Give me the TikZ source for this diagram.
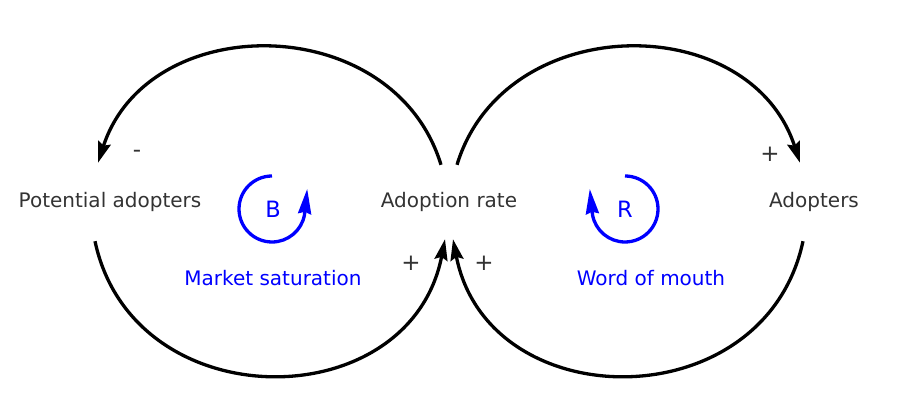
\documentclass[tikz,border=0pt]{standalone}
\usepackage{fontspec}
\setmainfont{DejaVu Sans}
\usetikzlibrary{arrows.meta}
\definecolor{txtgray}{HTML}{333333}

\begin{document}
\begin{tikzpicture}[x=1pt, y=1pt, font=\fontsize{20}{24}\selectfont]
	\tikzstyle{var}=[text=txtgray, minimum height=78pt, inner sep=0pt]
	\tikzstyle{causal}=[line width=3.3pt, -{Stealth[length=21pt, width=13pt, inset=3pt]}]
	\tikzstyle{polarity}=[text=txtgray, inner sep=0pt, font=\fontsize{23}{26}\selectfont]
	\tikzstyle{loopname}=[text=blue, inner sep=0pt]
	\tikzstyle{cycarrow}=[draw=blue, line width=3.3pt, -{Stealth[length=25pt, width=13pt, inset=2pt]}]
	
	\useasboundingbox (0,0) rectangle (900,420);
	
	% stocks and flow
	\node (potential) at (110,218) [var] {Potential adopters};
	\node (rate) at (449,218) [var, minimum height=74pt] {Adoption rate};
	\node (adopters) at (814,218) [var] {Adopters};
	
	% causal links
	\draw [causal] ([xshift=-8pt]rate.north) .. controls +(107:162) and +(72:162) .. ([xshift=-12pt]potential.north);
	\draw [causal] ([xshift=-15pt]potential.south) .. controls +(282:183) and +(259:183) .. ([xshift=-4pt]rate.south);
	\draw [causal] ([xshift=8pt]rate.north) .. controls +(73:162) and +(108:162) .. ([xshift=-14pt]adopters.north);
	\draw [causal] ([xshift=-11pt]adopters.south) .. controls +(258:183) and +(281:183) .. ([xshift=4pt]rate.south);
	
	% link polarities
	\node (minus) at (137,266) [polarity] {-};
	\node (plusa) at (770,266) [polarity] {+};
	\node (plusb) at (411,157) [polarity] {+};
	\node (plusc) at (484,157) [polarity] {+};
	
	% loops
	\node (balance) at (273,211) [loopname, font=\fontsize{22.5}{26}\selectfont] {B};
	\node (reinforce) at (625,211) [loopname, font=\fontsize{22.5}{26}\selectfont] {R};
	\draw [cycarrow] (balance.center) ++(-1,33) arc[start angle=90, end angle=350, radius=33] -- ++(84:26);
	\draw [cycarrow] (reinforce.center) ++(0,33) arc[start angle=90, end angle=-170, radius=33] -- ++(96:26);
	
	\node (market) at (273,142) [loopname] {Market saturation};
	\node (mouth) at (651,142) [loopname] {Word of mouth};
	
	%		\draw[help lines] (0,0) grid[step=50] (900,420);
\end{tikzpicture}
\end{document}
